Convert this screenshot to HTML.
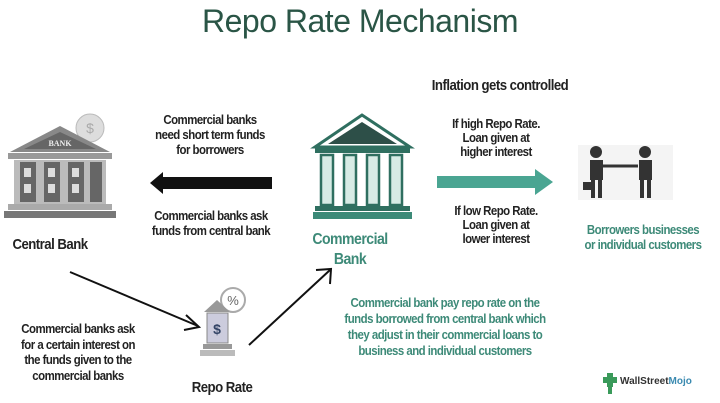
<!DOCTYPE html>
<html><head><meta charset="utf-8"><style>
body{margin:0;width:720px;height:403px;background:#fff;position:relative;overflow:hidden;font-family:"Liberation Sans",sans-serif}
.t{position:absolute;text-align:center;font-weight:bold;font-size:13px;line-height:15px;color:#222;letter-spacing:-0.6px;white-space:nowrap;transform:translateX(-50%) scaleX(0.88)}
.g{color:#3d8a78}
</style></head><body>
<div style="position:absolute;left:0;width:720px;top:3px;text-align:center;font-size:32px;color:#2a5546;letter-spacing:-0.5px">Repo Rate Mechanism</div>
<div class="t" style="left:500px;top:78px;font-size:15px">Inflation gets controlled</div>

<svg width="720" height="403" style="position:absolute;left:0;top:0">
<circle cx="90" cy="128" r="14" fill="#ddd" stroke="#bbb"/>
<text x="90" y="133" font-size="14" text-anchor="middle" fill="#aaa" font-family="Liberation Sans">$</text>
<polygon points="10,152 60,126 110,152" fill="#888"/>
<polygon points="24,149 60,132 96,149" fill="#666"/>
<text x="60" y="146" font-size="8" text-anchor="middle" fill="#eee" font-weight="bold" font-family="Liberation Serif">BANK</text>
<rect x="8" y="153" width="104" height="6" fill="#999"/>
<rect x="14" y="160" width="92" height="44" fill="#bbb"/>
<g fill="#666"><rect x="20" y="162" width="16" height="40"/><rect x="44" y="162" width="16" height="40"/><rect x="68" y="162" width="16" height="40"/><rect x="90" y="162" width="12" height="40"/></g>
<g fill="#ddd"><rect x="24" y="168" width="7" height="9"/><rect x="48" y="168" width="7" height="9"/><rect x="72" y="168" width="7" height="9"/><rect x="24" y="184" width="7" height="9"/><rect x="48" y="184" width="7" height="9"/><rect x="72" y="184" width="7" height="9"/></g>
<rect x="8" y="204" width="104" height="6" fill="#aaa"/>
<rect x="4" y="211" width="112" height="7" fill="#777"/>
<polygon points="150,183 163,172 163,177 272,177 272,189 163,189 163,194" fill="#111"/>
<polygon points="315,147 362,115 410,147" fill="#fff" stroke="#2f6f60" stroke-width="3"/>
<polygon points="328,144 362,122 397,144" fill="#2d4f48"/>
<rect x="315" y="148" width="95" height="5" fill="#2f6f60"/>
<g fill="#d7ebe5" stroke="#2f6f60" stroke-width="2.5"><rect x="321" y="155" width="12" height="50"/><rect x="344" y="155" width="12" height="50"/><rect x="367" y="155" width="12" height="50"/><rect x="390" y="155" width="12" height="50"/></g>
<rect x="315" y="206" width="95" height="5" fill="#2f6f60"/>
<rect x="313" y="212" width="99" height="7" fill="#3c8a78"/>
<polygon points="437,176 535,176 535,169 553,182 535,195 535,188 437,188" fill="#4aa592"/>
<rect x="578" y="145" width="95" height="55" fill="#f4f4f4"/>
<g fill="#333"><circle cx="596" cy="152" r="6"/><rect x="590" y="160" width="13" height="20"/><rect x="591" y="180" width="4" height="18"/><rect x="598" y="180" width="4" height="18"/><rect x="583" y="182" width="8" height="8"/>
<circle cx="645" cy="152" r="6"/><rect x="639" y="160" width="13" height="20"/><rect x="640" y="180" width="4" height="18"/><rect x="647" y="180" width="4" height="18"/></g>
<line x1="603" y1="166" x2="638" y2="166" stroke="#333" stroke-width="3"/>
<line x1="70" y1="272" x2="198" y2="326" stroke="#111" stroke-width="2"/>
<polyline points="186,315 199,327 184,330" fill="none" stroke="#111" stroke-width="2"/>
<line x1="249" y1="345" x2="330" y2="270" stroke="#111" stroke-width="2"/>
<polyline points="316,270 331,269 330,284" fill="none" stroke="#111" stroke-width="2"/>
<circle cx="233" cy="300" r="12" fill="none" stroke="#aaa" stroke-width="2"/>
<text x="233" y="305" font-size="13" text-anchor="middle" fill="#666" font-family="Liberation Sans">%</text>
<polygon points="204,312 217,300 230,312" fill="#999"/>
<rect x="207" y="313" width="21" height="30" fill="#ccd" stroke="#888"/>
<text x="217" y="334" font-size="14" text-anchor="middle" fill="#346" font-weight="bold" font-family="Liberation Sans">$</text>
<rect x="203" y="344" width="29" height="5" fill="#999"/>
<rect x="200" y="350" width="35" height="6" fill="#bbb"/>
<g fill="#3a9a5a"><rect x="607" y="373" width="6" height="14"/><rect x="603" y="377" width="14" height="6"/><rect x="608" y="386" width="4" height="8"/></g>
<text x="620" y="384" font-size="10" font-weight="bold" fill="#333" font-family="Liberation Sans">WallStreet<tspan fill="#3a8ab0">Mojo</tspan></text>
</svg>

<div class="t" style="left:50px;top:237px;font-size:15px">Central Bank</div>
<div class="t" style="left:210px;top:112px">Commercial banks<br>need short term funds<br>for borrowers</div>
<div class="t" style="left:211px;top:208px">Commercial banks ask<br>funds from central bank</div>
<div class="t g" style="left:350px;top:230px;font-size:16px;line-height:20px">Commercial<br>Bank</div>
<div class="t" style="left:496px;top:117px;line-height:14px">If high Repo Rate.<br>Loan given at<br>higher interest</div>
<div class="t" style="left:496px;top:204px;line-height:14px">If low Repo Rate.<br>Loan given at<br>lower interest</div>
<div class="t g" style="left:643px;top:222px">Borrowers businesses<br>or individual customers</div>
<div class="t" style="left:78px;top:321px;line-height:15.5px">Commercial banks ask<br>for a certain interest on<br>the funds given to the<br>commercial banks</div>
<div class="t" style="left:222px;top:380px;font-size:15px">Repo Rate</div>
<div class="t g" style="left:445px;top:295px;line-height:16px">Commercial bank pay repo rate on the<br>funds borrowed from central bank which<br>they adjust in their commercial loans to<br>business and individual customers</div>
</body></html>
